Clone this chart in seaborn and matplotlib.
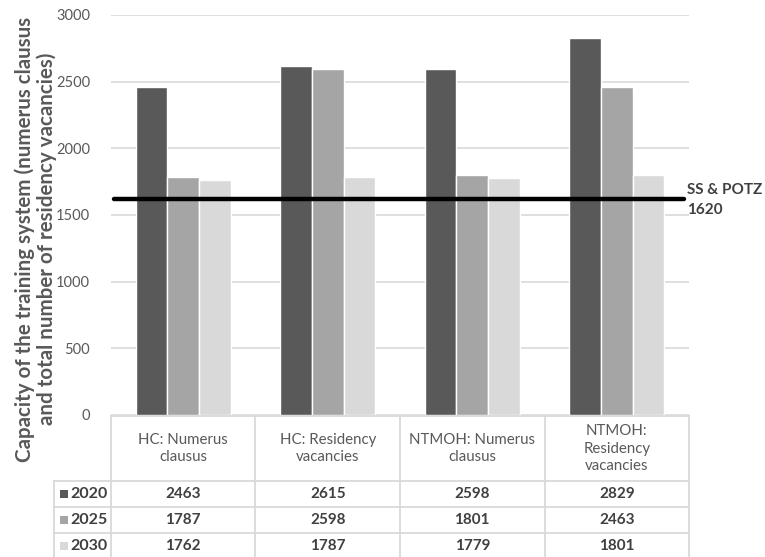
import matplotlib
matplotlib.use("Agg")
import matplotlib.pyplot as plt
from matplotlib.lines import Line2D
from matplotlib.patches import Rectangle
import seaborn as sns
import pandas as pd

# Data
categories = ["HC: Numerus\nclausus", "HC: Residency\nvacancies",
              "NTMOH: Numerus\nclausus", "NTMOH:\nResidency\nvacancies"]
years = ["2020", "2025", "2030"]
values_2020 = [2463, 2615, 2598, 2829]
values_2025 = [1787, 2598, 1801, 2463]
values_2030 = [1762, 1787, 1779, 1801]
reference_label = "SS & POTZ"
reference_value = 1620
y_ticks = [0, 500, 1000, 1500, 2000, 2500, 3000]
ylabel = "Capacity of the training system (numerus clausus\nand total number of residency vacancies)"

series = {"2020": values_2020, "2025": values_2025, "2030": values_2030}
colors = {"2020": "#595959", "2025": "#a5a5a5", "2030": "#d9d9d9"}

df = pd.DataFrame(
    [(c, y, series[y][i]) for y in years for i, c in enumerate(categories)],
    columns=["category", "year", "value"],
)

sns.set_theme(style="white")
plt.rcParams["font.family"] = ["Lato", "DejaVu Sans"]

W, H = 765, 557
fig = plt.figure(figsize=(W / 100, H / 100), dpi=100)

def fx(px):
    return px / W

def fy(py):
    return 1 - py / H

ax_left, ax_right, ax_top, ax_bottom = 111, 689, 15, 415
ax = fig.add_axes([fx(ax_left), fy(ax_bottom), fx(ax_right - ax_left),
                   (ax_bottom - ax_top) / H])

sns.barplot(data=df, x="category", y="value", hue="year", order=categories,
            hue_order=years, palette=colors, width=0.66, saturation=1,
            ax=ax, legend=False, zorder=3)

ax.set_ylim(0, 3000)
ax.set_xlim(-0.5, len(categories) - 0.5)
ax.set_yticks(y_ticks)
ax.set_yticklabels([str(t) for t in y_ticks], fontsize=10.5, color="#595959")
ax.tick_params(axis="y", length=0, pad=15)
ax.set_xticks([])
ax.set_xlabel("")
ax.set_ylabel("")
ax.yaxis.grid(True, color="#d9d9d9", linewidth=1.2, zorder=0)
ax.set_axisbelow(True)
for s in ax.spines.values():
    s.set_visible(False)

# Reference level
ax.axhline(reference_value, xmin=0.005, xmax=0.992, color="black",
           linewidth=3.2, zorder=5)
fig.text(fx(687), fy(200), f"{reference_label}\n{reference_value}",
         fontsize=11, fontweight="bold", color="#404040",
         ha="left", va="center", linespacing=1.6)

# Axis title
fig.text(fx(36), fy(239), ylabel, rotation=90, ha="center", va="center",
         multialignment="center", fontsize=14.8, fontweight="bold",
         color="#595959", linespacing=1.1)

# Data table below the plot
grid_c = "#d9d9d9"
col_edges = [ax_left + (ax_right - ax_left) * k / len(categories)
             for k in range(len(categories) + 1)]
header_top, header_bot = 416, 481
row_edges = [481, 507, 533, 559]
label_left = 54

def hline(y, x0, x1):
    fig.add_artist(Line2D([fx(x0), fx(x1)], [fy(y), fy(y)], color=grid_c,
                          linewidth=1.3, transform=fig.transFigure))

def vline(x, y0, y1):
    fig.add_artist(Line2D([fx(x), fx(x)], [fy(y0), fy(y1)], color=grid_c,
                          linewidth=1.3, transform=fig.transFigure))

hline(header_top, col_edges[0], col_edges[-1])
for y in row_edges:
    hline(y, label_left, col_edges[-1])
for x in col_edges:
    vline(x, header_top, row_edges[-1])
vline(label_left, row_edges[0], row_edges[-1])

for i, cat in enumerate(categories):
    cx = (col_edges[i] + col_edges[i + 1]) / 2
    fig.text(fx(cx), fy((header_top + header_bot) / 2), cat, fontsize=10.8,
             color="#595959", ha="center", va="center",
             multialignment="center", linespacing=1.3)

for r, yr in enumerate(years):
    cy = (row_edges[r] + row_edges[r + 1]) / 2
    fig.add_artist(Rectangle((fx(60), fy(cy + 4)), fx(8), 8 / H,
                             facecolor=colors[yr], edgecolor="none",
                             transform=fig.transFigure))
    fig.text(fx(70), fy(cy), yr, fontsize=11.5, fontweight="bold",
             color="#404040", ha="left", va="center")
    for i, v in enumerate(series[yr]):
        cx = (col_edges[i] + col_edges[i + 1]) / 2
        fig.text(fx(cx), fy(cy), str(v), fontsize=11, fontweight="bold",
                 color="#404040", ha="center", va="center")

fig.savefig("out.png", dpi=100, facecolor="white")
